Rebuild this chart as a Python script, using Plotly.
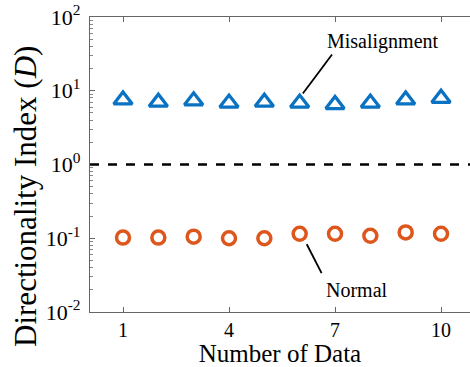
import plotly.graph_objects as go

data_index = [1, 2, 3, 4, 5, 6, 7, 8, 9, 10]
misalignment = [7.5, 7.0, 7.3, 6.8, 7.0, 6.8, 6.5, 6.8, 7.5, 7.9]
normal = [0.102, 0.102, 0.105, 0.100, 0.100, 0.115, 0.115, 0.108, 0.120, 0.115]
x_ticks = [1, 4, 7, 10]
y_ticks = [0.01, 0.1, 1, 10, 100]
y_ticklabels = ["10<sup>-2</sup>", "10<sup>-1</sup>", "10<sup>0</sup>", "10<sup>1</sup>", "10<sup>2</sup>"]
threshold = 1.0

BLUE = "#0A72C2"
ORANGE = "#DD561C"
FONT = "Liberation Serif"

fig = go.Figure()
fig.add_trace(go.Scatter(
    x=data_index, y=misalignment, mode="markers", name="Misalignment",
    marker=dict(symbol="triangle-up-open", size=16, color=BLUE, line=dict(width=3.3, color=BLUE)),
))
fig.add_trace(go.Scatter(
    x=data_index, y=normal, mode="markers", name="Normal",
    marker=dict(symbol="circle-open", size=13, color=ORANGE, line=dict(width=3.5, color=ORANGE)),
))

fig.add_hline(y=threshold, line=dict(color="black", width=2.5, dash="dash"))

# labels (annotation y in log10 units) and leader lines (shape y in data units)
fig.add_annotation(x=8.36, y=1.668, text="Misalignment", showarrow=False,
                   font=dict(family=FONT, size=20, color="black"))
fig.add_shape(type="line", xref="x", yref="y", x0=6.916, y0=10 ** 1.492, x1=6.09, y1=10 ** 0.963,
              line=dict(color="black", width=1.8))
fig.add_annotation(x=7.62, y=-1.695, text="Normal", showarrow=False,
                   font=dict(family=FONT, size=20, color="black"))
fig.add_shape(type="line", xref="x", yref="y", x0=6.2, y0=10 ** -1.081, x1=6.62, y1=10 ** -1.474,
              line=dict(color="black", width=1.8))

# y-axis title placed as rotated annotation
fig.add_annotation(xref="paper", yref="paper", x=0, y=0.39, xshift=-64, xanchor="center",
                   yanchor="middle", textangle=-90, showarrow=False,
                   text="Directionality Index (<i>D</i>)",
                   font=dict(family=FONT, size=31, color="black"))

fig.update_layout(
    width=470, height=367,
    margin=dict(l=90, r=0, t=17, b=55),
    paper_bgcolor="white", plot_bgcolor="white",
    showlegend=False,
    font=dict(family=FONT, color="black", size=20),
)
fig.update_xaxes(
    range=[0.066, 10.82], tickvals=x_ticks, ticks="inside", ticklen=5, tickcolor="#666",
    showline=True, linecolor="#666", linewidth=1.2, mirror="ticks", showgrid=False, zeroline=False,
    title=dict(text="Number of Data", font=dict(family=FONT, size=25), standoff=0),
    tickfont=dict(family=FONT, size=20), automargin=False,
)
fig.update_yaxes(
    type="log", range=[-2, 2], tickvals=y_ticks, ticktext=y_ticklabels,
    ticks="inside", ticklen=5, tickcolor="#666",
    minor=dict(dtick="D1", ticks="inside", ticklen=3, tickcolor="#888", showgrid=False),
    showline=True, linecolor="#666", linewidth=1.2, showgrid=False, zeroline=False,
    tickfont=dict(family=FONT, size=22), ticklabelstandoff=4, automargin=False,
    ticklabeloverflow="allow",
)

fig.write_html("out.html", config={"displayModeBar": False},
               post_script="document.body.style.margin='0';document.body.style.overflow='hidden';")
